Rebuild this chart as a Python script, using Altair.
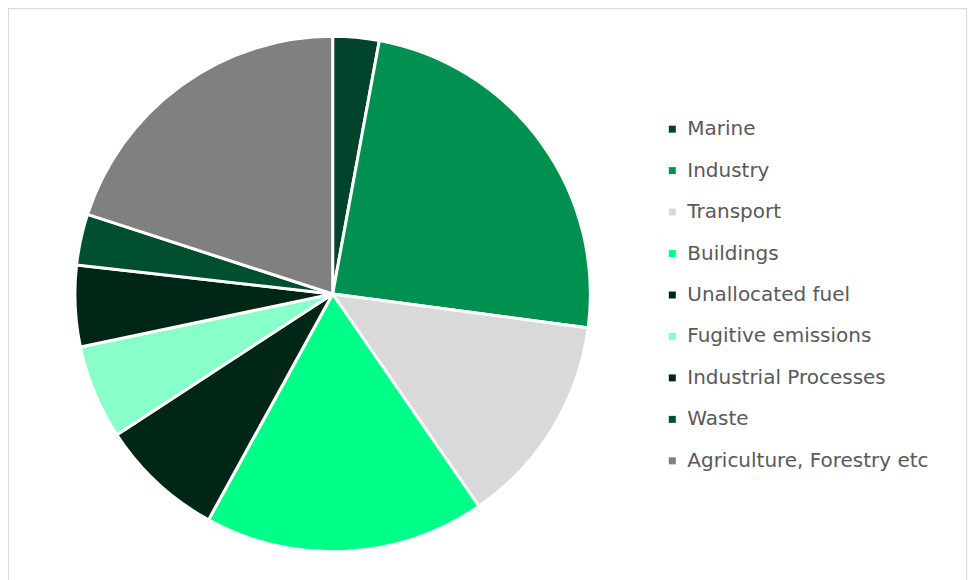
import altair as alt
import pandas as pd

categories = ["Marine", "Industry", "Transport", "Buildings", "Unallocated fuel",
              "Fugitive emissions", "Industrial Processes", "Waste", "Agriculture, Forestry etc"]
values = [2.9, 24.2, 13.3, 17.6, 7.8, 5.9, 5.1, 3.2, 20.0]
colors = ["#00452b", "#009150", "#d9d9d9", "#00ff88", "#002616",
          "#88ffc8", "#002616", "#00502f", "#808080"]

df = pd.DataFrame({"category": categories, "value": values, "order": list(range(len(categories)))})

pie = alt.Chart(df).mark_arc(stroke="white", strokeWidth=3, outerRadius=258).encode(
    theta=alt.Theta("value:Q", stack=True),
    order=alt.Order("order:Q"),
    x=alt.value(325),
    y=alt.value(286),
    color=alt.Color(
        "category:N",
        scale=alt.Scale(domain=categories, range=colors),
        sort=categories,
        legend=alt.Legend(
            title=None,
            orient="none",
            legendX=655,
            legendY=111,
            symbolType="square",
            symbolSize=49,
            symbolStrokeWidth=0,
            labelFont="DejaVu Sans",
            labelFontSize=20,
            labelColor="#595959",
            labelLimit=400,
            rowPadding=21.5,
            labelOffset=5,
        ),
    ),
).properties(width=960, height=580, padding=0)

chart = pie.configure_view(stroke="#d9d9d9", strokeWidth=2)

chart.save("out.html", embed_options={"renderer": "svg", "actions": False})
